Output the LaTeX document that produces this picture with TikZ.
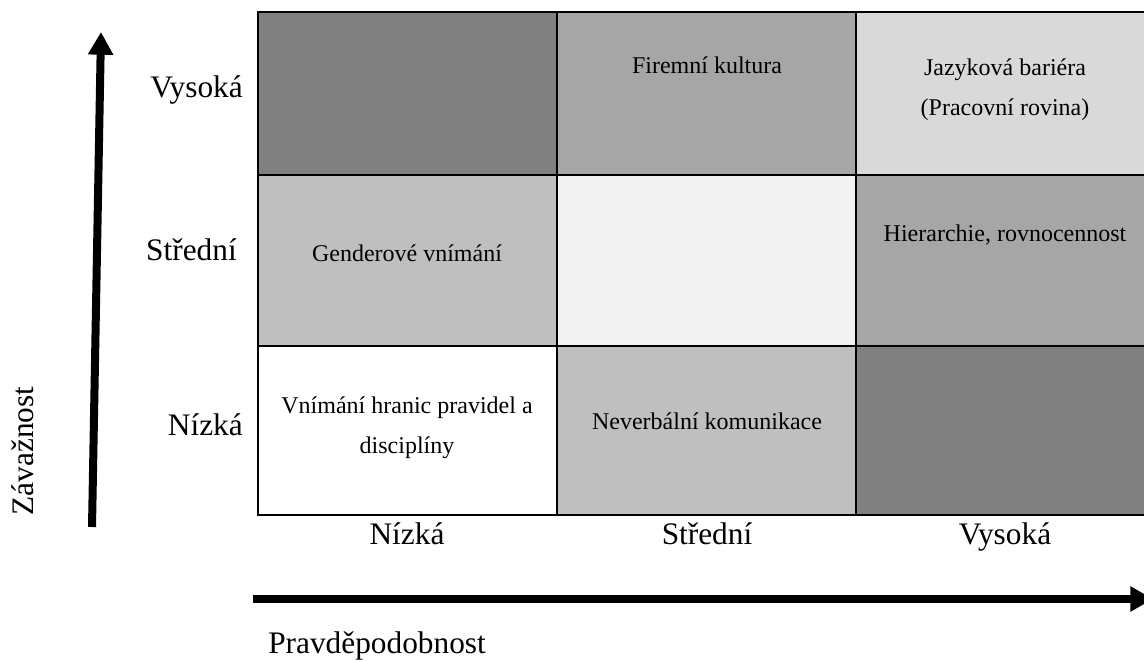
\documentclass[tikz,border=0pt]{standalone}
\usepackage{fontspec}
\setmainfont{Liberation Serif}
\usetikzlibrary{arrows.meta}
\definecolor{tmava}{HTML}{808080}
\definecolor{stredni}{HTML}{A6A6A6}
\definecolor{svetla}{HTML}{BFBFBF}
\definecolor{bleda}{HTML}{D9D9D9}
\definecolor{skorobila}{HTML}{F2F2F2}
\tikzset{
  osa/.style={line width=6pt, -{Triangle[width=18pt,length=17pt]}},
  mrizka/.style={line width=1.7pt, black},
  popis/.style={font=\fontsize{23.5}{28}\selectfont, anchor=base, inner sep=0pt},
  bunka/.style={font=\fontsize{18}{29.5}\selectfont, anchor=base, inner sep=0pt, align=center},
}
\begin{document}
\begin{tikzpicture}[x=0.75pt, y=-0.75pt]
    \useasboundingbox (0,0) rectangle (1144,660);
    \clip (0,0) rectangle (1144,660);
    % Souradnice
    \coordinate (A0) at (92,527);
    \coordinate (A1) at (101,32);
    \coordinate (B0) at (253,599);
    \coordinate (B1) at (1153,599);
    % Bunky
    \fill [tmava]     (258,12) rectangle (557,175);
    \fill [stredni]   (557,12) rectangle (856,175);
    \fill [bleda]     (856,12) rectangle (1154,175);
    \fill [svetla]    (258,175) rectangle (557,346);
    \fill [skorobila] (557,175) rectangle (856,346);
    \fill [stredni]   (856,175) rectangle (1154,346);
    \fill [white]     (258,346) rectangle (557,515);
    \fill [svetla]    (557,346) rectangle (856,515);
    \fill [tmava]     (856,346) rectangle (1154,515);
    % Mrizka
    \draw [mrizka] (258,12) rectangle (1154,515);
    \draw [mrizka] (258,175) -- (1154,175);
    \draw [mrizka] (258,346) -- (1154,346);
    \draw [mrizka] (557,12) -- (557,515);
    \draw [mrizka] (856,12) -- (856,515);
    % Osy
    \draw [osa] (A0) -- (A1); % zavaznost
    \draw [osa] (B0) -- (B1); % pravdepodobnost
    % Texty v bunkach
    \node [bunka] (firemni) at (707,74) {Firemní kultura};
    \node [bunka] (jazyk) at (1005,115) {Jazyková bariéra\\(Pracovní rovina)};
    \node [bunka] (gender) at (407,261) {Genderové vnímání};
    \node [bunka] (hierarchie) at (1005,241) {Hierarchie, rovnocennost};
    \node [bunka] (hranice) at (407,453) {Vnímání hranic pravidel a\\disciplíny};
    \node [bunka] (neverbal) at (707,429) {Neverbální komunikace};
    % Popisky os
    \node [popis, anchor=base east] (rVys) at (243,97) {Vysoká};
    \node [popis, anchor=base east] (rStr) at (237,260) {Střední};
    \node [popis, anchor=base east] (rNiz) at (243,435) {Nízká};
    \node [popis] (sNiz) at (407,544) {Nízká};
    \node [popis] (sStr) at (707,544) {Střední};
    \node [popis] (sVys) at (1005,544) {Vysoká};
    \node [popis, anchor=base west] (pravd) at (268,653) {Pravděpodobnost};
    \node [popis, rotate=90] (zavaz) at (33,451) {Závažnost};
\end{tikzpicture}
\end{document}
